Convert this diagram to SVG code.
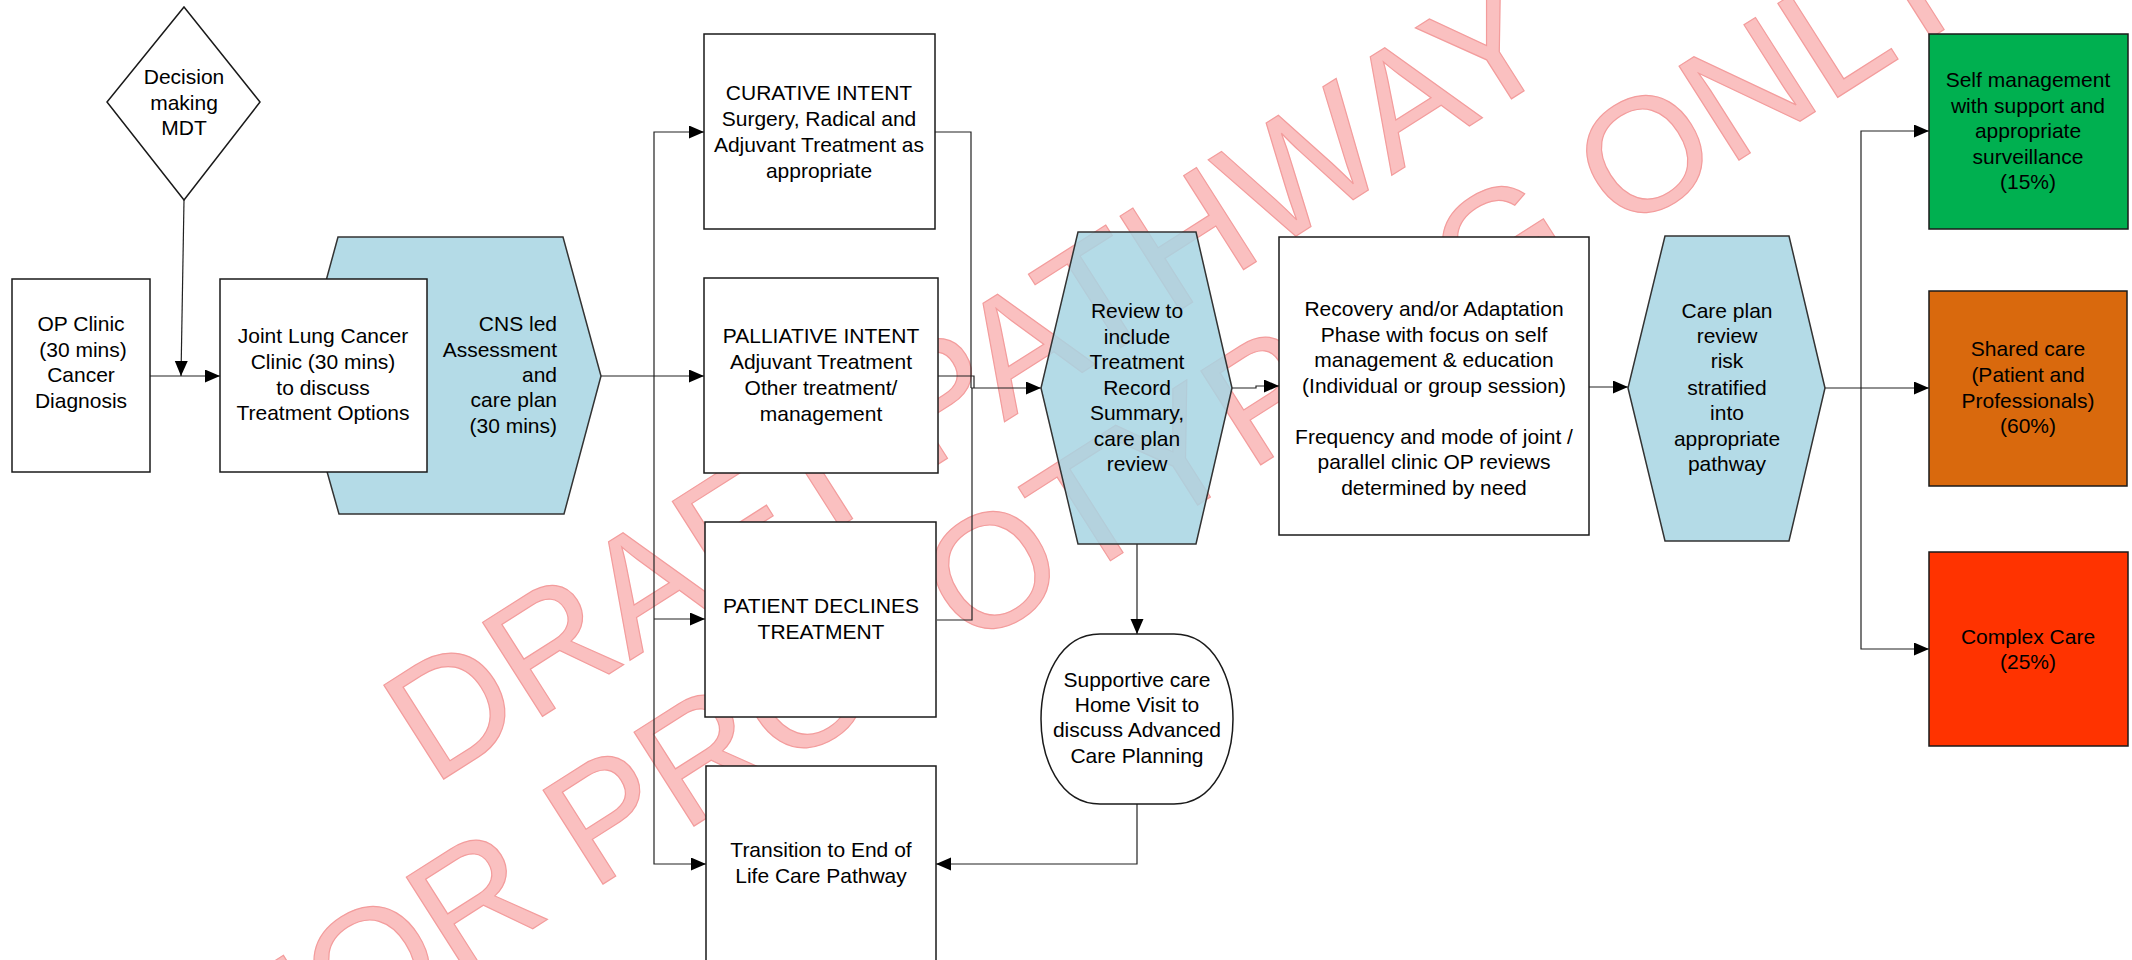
<svg xmlns="http://www.w3.org/2000/svg" width="2132" height="960" viewBox="0 0 2132 960">
<style>
.n{fill:#fff;stroke:#1a1a1a;stroke-width:1.5}
.hex{fill:#A7D5E3;fill-opacity:0.85;stroke:#333;stroke-width:1.5}
.t{font-family:"Liberation Sans",Arial,sans-serif;font-size:21px;fill:#000;text-anchor:middle}
.r{text-anchor:end}
.c{fill:none;stroke:#222;stroke-width:1.2}
.a{marker-end:url(#ah)}
.wm{font-family:"Liberation Sans",Arial,sans-serif;font-size:162px;fill:#FAC0C0;stroke:#F39C9C;stroke-width:1.2;text-anchor:middle}
</style>
<defs>
<marker id="ah" markerWidth="16" markerHeight="14" refX="15" refY="6.5" orient="auto" markerUnits="userSpaceOnUse"><path d="M0,0 L15,6.5 L0,13 Z" fill="#000"/></marker>
</defs>
<rect width="2132" height="960" fill="#fff"/>
<g id="watermark" transform="translate(998,426) rotate(-32.5)">
<text class="wm" x="0" y="0">DRAFT PATHWAY</text>
<text class="wm" x="39" y="174">FOR PROTOTYPING ONLY</text>
</g>
<g id="connectors">
<path class="c a" d="M150,376 H220"/>
<path class="c a" d="M184,200 L181,376"/>
<path class="c a" d="M601,376 H704"/>
<path class="c a" d="M654,376 V132 H704"/>
<path class="c a" d="M654,376 V864 H706"/>
<path class="c a" d="M654,619 H705"/>
<path class="c" d="M935,132 H971 V388"/>
<path class="c" d="M938,376 H974 V388"/>
<path class="c" d="M937,620 H972 V388"/>
<path class="c a" d="M971,388 H1041"/>
<path class="c a" d="M1232,388 H1256 V386 H1279"/>
<path class="c a" d="M1137,544 V634"/>
<path class="c a" d="M1137,804 V864 H936"/>
<path class="c a" d="M1589,387 H1628"/>
<path class="c a" d="M1825,388 H1929"/>
<path class="c a" d="M1861,388 V131 H1929"/>
<path class="c a" d="M1861,388 V649 H1929"/>
</g>
<g id="mdt">
<polygon class="n" points="184,7 260,102 184,200 107,102"/>
<text class="t" x="184" y="84">Decision</text>
<text class="t" x="184" y="110">making</text>
<text class="t" x="184" y="135">MDT</text>
</g>
<g id="op-clinic">
<rect class="n" x="12" y="279" width="138" height="193"/>
<text class="t" x="81" y="331">OP Clinic</text>
<text class="t" x="83" y="357">(30 mins)</text>
<text class="t" x="81" y="382">Cancer</text>
<text class="t" x="81" y="408">Diagnosis</text>
</g>
<g id="cns">
<polygon class="hex" points="338,237 563,237 601,376 564,514 339,514 300,376"/>
<text class="t r" x="557" y="331">CNS led</text>
<text class="t r" x="557" y="357">Assessment</text>
<text class="t r" x="557" y="382">and</text>
<text class="t r" x="557" y="407">care plan</text>
<text class="t r" x="557" y="433">(30 mins)</text>
</g>
<g id="joint-clinic">
<rect class="n" x="220" y="279" width="207" height="193"/>
<text class="t" x="323" y="343">Joint Lung Cancer</text>
<text class="t" x="323" y="369">Clinic (30 mins)</text>
<text class="t" x="323" y="395">to discuss</text>
<text class="t" x="323" y="420">Treatment Options</text>
</g>
<g id="curative">
<rect class="n" x="704" y="34" width="231" height="195"/>
<text class="t" x="819" y="100">CURATIVE INTENT</text>
<text class="t" x="819" y="126">Surgery, Radical and</text>
<text class="t" x="819" y="152">Adjuvant Treatment as</text>
<text class="t" x="819" y="178">appropriate</text>
</g>
<g id="palliative">
<rect class="n" x="704" y="278" width="234" height="195"/>
<text class="t" x="821" y="343">PALLIATIVE INTENT</text>
<text class="t" x="821" y="369">Adjuvant Treatment</text>
<text class="t" x="821" y="395">Other treatment/</text>
<text class="t" x="821" y="421">management</text>
</g>
<g id="declines">
<rect class="n" x="705" y="522" width="231" height="195"/>
<text class="t" x="821" y="613">PATIENT DECLINES</text>
<text class="t" x="821" y="639">TREATMENT</text>
</g>
<g id="end-of-life">
<rect class="n" x="706" y="766" width="230" height="210"/>
<text class="t" x="821" y="857">Transition to End of</text>
<text class="t" x="821" y="883">Life Care Pathway</text>
</g>
<g id="review">
<polygon class="hex" points="1078,232 1196,232 1232,388 1196,544 1078,544 1041,388"/>
<text class="t" x="1137" y="318">Review to</text>
<text class="t" x="1137" y="344">include</text>
<text class="t" x="1137" y="369">Treatment</text>
<text class="t" x="1137" y="395">Record</text>
<text class="t" x="1137" y="420">Summary,</text>
<text class="t" x="1137" y="446">care plan</text>
<text class="t" x="1137" y="471">review</text>
</g>
<g id="supportive">
<path class="n" d="M1100,634 H1174 C1215,634 1233,680 1233,719 C1233,758 1215,804 1174,804 H1100 C1059,804 1041,758 1041,719 C1041,680 1059,634 1100,634 Z"/>
<text class="t" x="1137" y="687">Supportive care</text>
<text class="t" x="1137" y="712">Home Visit to</text>
<text class="t" x="1137" y="737">discuss Advanced</text>
<text class="t" x="1137" y="763">Care Planning</text>
</g>
<g id="recovery">
<rect class="n" x="1279" y="237" width="310" height="298"/>
<text class="t" x="1434" y="316">Recovery and/or Adaptation</text>
<text class="t" x="1434" y="342">Phase with focus on self</text>
<text class="t" x="1434" y="367">management &amp; education</text>
<text class="t" x="1434" y="393">(Individual or group session)</text>
<text class="t" x="1434" y="444">Frequency and mode of joint /</text>
<text class="t" x="1434" y="469">parallel clinic OP reviews</text>
<text class="t" x="1434" y="495">determined by need</text>
</g>
<g id="care-plan-review">
<polygon class="hex" points="1665,236 1789,236 1825,388 1789,541 1665,541 1628,388"/>
<text class="t" x="1727" y="318">Care plan</text>
<text class="t" x="1727" y="343">review</text>
<text class="t" x="1727" y="368">risk</text>
<text class="t" x="1727" y="395">stratified</text>
<text class="t" x="1727" y="420">into</text>
<text class="t" x="1727" y="446">appropriate</text>
<text class="t" x="1727" y="471">pathway</text>
</g>
<g id="self-management">
<rect class="n" x="1929" y="34" width="199" height="195" style="fill:#00B050"/>
<text class="t" x="2028" y="87">Self management</text>
<text class="t" x="2028" y="113">with support and</text>
<text class="t" x="2028" y="138">appropriate</text>
<text class="t" x="2028" y="164">surveillance</text>
<text class="t" x="2028" y="189">(15%)</text>
</g>
<g id="shared-care">
<rect class="n" x="1929" y="291" width="198" height="195" style="fill:#D9690D"/>
<text class="t" x="2028" y="356">Shared care</text>
<text class="t" x="2028" y="382">(Patient and</text>
<text class="t" x="2028" y="408">Professionals)</text>
<text class="t" x="2028" y="433">(60%)</text>
</g>
<g id="complex-care">
<rect class="n" x="1929" y="552" width="199" height="194" style="fill:#FF3300"/>
<text class="t" x="2028" y="644">Complex Care</text>
<text class="t" x="2028" y="669">(25%)</text>
</g>
</svg>
